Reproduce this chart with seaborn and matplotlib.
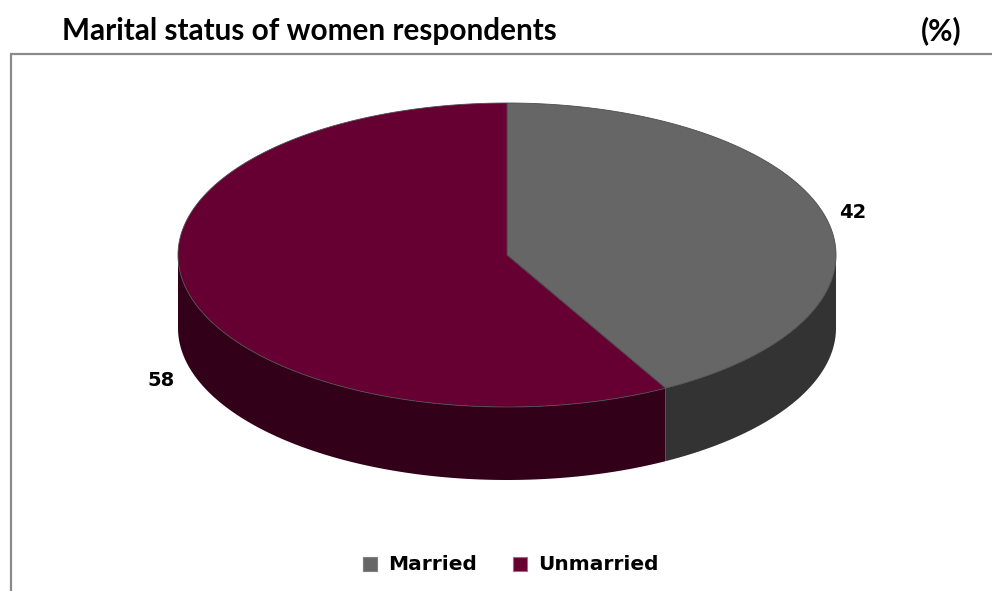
import numpy as np
import matplotlib
matplotlib.use("Agg")
import matplotlib.pyplot as plt
import seaborn as sns

# Data
categories = ["Married", "Unmarried"]
shares = [42, 58]
top_colors = ["#666666", "#660033"]
side_colors = ["#333333", "#33001a"]

sns.set_theme(style="white")
plt.rcParams["font.family"] = ["Lato", "DejaVu Sans"]

W, H = 992, 591
fig = plt.figure(figsize=(W / 100, H / 100), dpi=100)
ax = fig.add_axes([0, 0, 1, 1])
ax.set_xlim(0, W)
ax.set_ylim(H, 0)
ax.axis("off")

# Chart frame (open to the right and bottom)
ax.plot([10.5, 10.5, W + 5], [H + 5, 53.5, 53.5], color="#8a8a8a", lw=1.6,
        solid_joinstyle="miter", zorder=1)

# Title row
ax.text(62, 31, "Marital status of women respondents", fontsize=21.4,
        fontweight="bold", ha="left", va="center", color="#000000")
ax.text(962, 31, "(%)", fontsize=21.4, fontweight="bold", ha="right",
        va="center", color="#000000")

# 3D pie geometry (screen pixels)
cx, cy, a, b, depth = 507, 255, 329, 152, 73


def pt(theta_deg, dz=0.0):
    t = np.radians(theta_deg)
    return cx + a * np.cos(t), cy - b * np.sin(t) + dz


total = float(sum(shares))
start = 90.0
spans = []
for v in shares:
    end = start - 360.0 * v / total
    spans.append((start, end))
    start = end

# Side walls (front half: angles between -180 and 0)
for (s, e), col in zip(spans, side_colors):
    segs = []
    lo, hi = max(e, -180.0), min(s, 0.0)
    if hi > lo:
        segs.append((lo, hi))
    lo2, hi2 = max(e + 360, -180.0), min(s + 360, 0.0)
    if hi2 > lo2:
        segs.append((lo2, hi2))
    for l, h in segs:
        th = np.linspace(h, l, 200)
        xs_t, ys_t = pt(th)
        xs_b, ys_b = pt(th[::-1], depth)
        ax.fill(np.concatenate([xs_t, xs_b]), np.concatenate([ys_t, ys_b]),
                color=col, lw=0, zorder=2)

# Top faces
for (s, e), col in zip(spans, top_colors):
    th = np.linspace(s, e, 400)
    xs, ys = pt(th)
    ax.fill(np.concatenate([[cx], xs]), np.concatenate([[cy], ys]),
            facecolor=col, edgecolor="#4d4d4d", lw=0.6, zorder=3)

# Value labels
for (s, e), v in zip(spans, shares):
    mid = np.radians((s + e) / 2)
    x = cx + (a + 28) * np.cos(mid)
    y = cy - (b + 17) * np.sin(mid)
    if np.sin(mid) < 0:
        y += depth + 10
    ax.text(x, y, f"{v}", fontsize=14, fontweight="bold",
            family="DejaVu Sans", ha="center", va="center", color="#000000",
            zorder=5)

# Legend
leg_items = [(363, categories[0], top_colors[0]), (513, categories[1], top_colors[1])]
for x0, name, col in leg_items:
    ax.add_patch(plt.Rectangle((x0, 557), 14, 14, facecolor=col,
                               edgecolor="#7f7f7f", lw=0.8, zorder=5))
    ax.text(x0 + 25, 564, name, fontsize=14.5, fontweight="bold",
            family="DejaVu Sans", ha="left", va="center", color="#000000")

fig.savefig("out.png", dpi=100, facecolor="white")
